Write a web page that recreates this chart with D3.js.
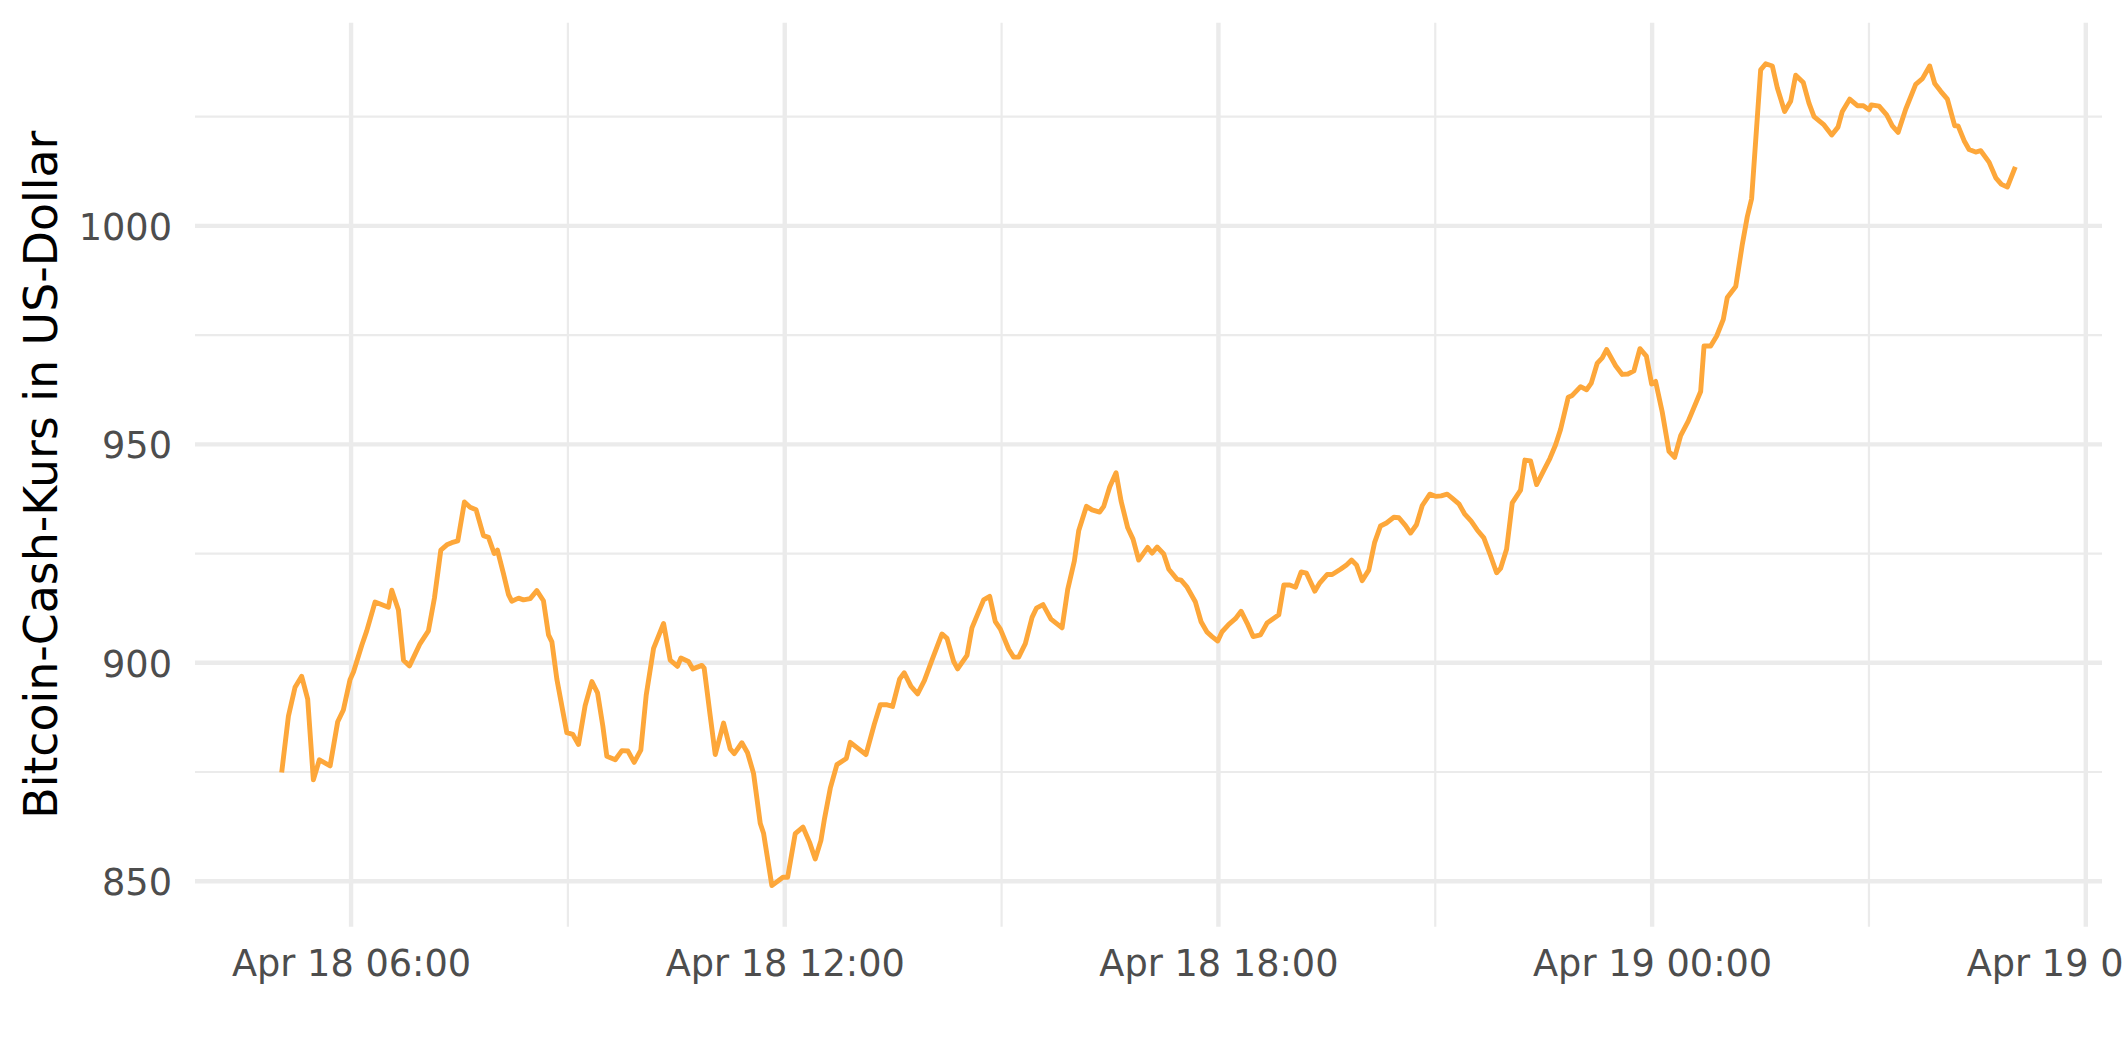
<!DOCTYPE html>
<html><head><meta charset="utf-8">
<script src="https://cdn.jsdelivr.net/npm/d3@7"></script>
<style>html,body{margin:0;padding:0;background:#fff;overflow:hidden} svg{display:block}</style>
</head><body>
<svg id="chart" width="2125" height="1062"></svg>
<script>
// ---- data ----
const startUTC = Date.UTC(2018, 3, 18, 5, 0); // 2018-04-18 05:00
// minutes after 05:00 on Apr 18
const offsetMin = [2.4,8.0,13.5,19.0,24.0,28.7,33.7,42.6,48.9,53.6,59.2,62.0,68.9,73.0,79.9,91.0,93.8,99.3,103.5,108.5,117.3,124.2,129.2,134.5,139.5,143.6,148.6,154.1,158.8,163.8,169.9,174.1,178.8,181.5,186.5,190.7,193.4,199.0,203.1,208.7,214.2,219.7,223.9,226.7,230.8,239.1,244.1,248.8,254.3,259.9,264.6,269.0,272.3,279.3,284.8,289.8,
295.0,300.5,305.0,311.1,319.4,324.9,331.0,333.8,340.1,343.7,351.2,353.1,358.1,362.3,369.2,374.7,378.1,384.4,389.1,394.1,399.7,402.4,409.3,418.5,422.4,428.7,435.1,440.6,445.3,450.0,452.8,457.8,463.3,471.1,474.4,481.3,487.4,494.3,499.3,504.3,509.5,515.4,519.2,524.8,530.3,535.9,542.2,550.5,554.7,560.2,563.5,571.3,575.4,581.0,585.1,590.1,594.8,599.0,605.9,610.0,614.2,619.7,625.3,628.9,634.4,641.0,650.2,
654.9,660.4,664.0,670.4,675.1,681.4,684.8,689.8,695.0,699.2,704.7,709.1,713.8,721.3,724.9,729.1,734.6,738.8,745.7,749.0,754.0,760.9,765.6,770.6,774.7,779.4,783.0,788.6,794.1,798.8,803.8,808.8,814.9,820.4,825.4,830.1,834.3,839.2,844.0,848.7,853.1,860.0,864.2,870.2,874.4,881.3,886.3,890.5,894.6,899.3,904.8,909.6,914.5,919.5,925.6,929.8,935.3,939.5,944.4,949.2,955.5,960.2,964.9,969.9,974.0,979.6,984.3,989.8,994.8,1000.3,1005.9,1010.9,1014.2,1019.2,1023.9,1030.8,1034.4,1039.1,1044.1,1050.2,
1055.2,1059.9,1064.0,1070.4,1073.7,1080.6,1085.6,1089.5,1094.5,1098.6,1102.2,1109.7,1115.2,1119.9,1124.9,1129.9,1135.2,1139.6,1142.9,1148.4,1154.0,1158.7,1163.7,1170.0,1180.3,1183.1,1188.6,1193.6,1199.1,1202.4,1209.4,
1214.9,1219.0,1222.6,1230.1,1234.3,1239.8,1243.9,1250.0,1255.0,1259.2,1265.5,1270.2,1274.4,1282.7,1289.1,1294.3,1297.9,1304.0,1310.4,1315.4,1320.1,1322.0,1328.4,
1334.7,1339.4,1344.2,1350.5,1358.8,1364.4,1370.4,1374.6,1379.6,1385.1,1391.2,1394.0,1399.0,1403.1,1408.6,1412.8,1419.7,1425.3,1430.0,1434.9,1441.5];
// Bitcoin Cash price in USD
const priceUSD = [874.9,887.8,894.4,896.9,891.7,873.2,877.8,876.4,886.5,889.2,896.2,897.9,904.0,907.3,913.9,912.7,916.6,912.1,900.6,899.3,904.4,907.3,914.8,925.8,927.0,927.5,927.9,936.8,935.6,935.0,929.1,928.7,925.0,925.8,920.4,915.6,914.1,914.8,914.4,914.7,916.5,914.2,906.4,904.8,896.3,884.0,883.6,881.3,890.2,895.7,893.1,885.5,878.6,877.8,879.9,879.8,
877.2,880.0,892.6,903.3,909.0,900.6,899.2,901.1,900.3,898.6,899.4,898.8,887.9,879.0,886.2,880.3,879.2,881.7,879.4,874.7,863.2,861.0,849.0,850.9,850.9,860.9,862.4,858.9,855.1,859.3,864.0,871.3,876.7,878.1,881.8,880.3,879.0,885.9,890.4,890.4,890.0,896.3,897.7,894.6,892.9,895.9,900.6,906.6,905.6,900.3,898.6,901.7,908.0,911.7,914.4,915.2,909.4,907.7,903.1,901.3,901.3,904.4,910.4,912.5,913.3,910.0,908.0,
916.8,923.3,930.2,935.8,935.0,934.5,935.8,940.3,943.5,937.0,930.9,928.3,923.5,926.4,925.1,926.5,924.9,921.4,919.1,918.9,917.3,913.9,909.4,907.0,906.0,905.0,907.1,908.8,910.1,911.8,909.1,906.0,906.4,909.1,910.1,911.0,917.8,917.8,917.3,920.8,920.5,916.4,918.3,920.2,920.2,921.4,922.4,923.5,922.4,918.8,921.2,927.5,931.3,932.0,933.3,933.2,931.4,929.7,931.6,936.0,938.6,938.1,938.2,938.6,937.7,936.4,934.1,932.4,930.4,928.6,924.5,920.6,921.6,926.0,936.6,939.5,946.4,946.2,940.8,944.1,
946.8,949.9,953.4,960.8,961.2,963.2,962.5,964.0,968.6,969.8,971.7,968.0,966.0,966.1,966.8,971.9,970.2,963.8,964.4,957.4,948.4,947.0,952.0,955.3,962.1,972.5,972.5,974.8,978.6,983.6,986.1,
995.8,1002.1,1006.2,1035.7,1037.1,1036.6,1031.6,1026.2,1028.5,1034.5,1032.8,1028.1,1025.0,1023.1,1020.8,1022.6,1026.2,1029.0,1027.5,1027.5,1026.6,1027.7,1027.4,
1025.4,1022.9,1021.4,1026.7,1032.4,1033.7,1036.6,1032.6,1030.8,1029.0,1022.9,1022.9,1019.5,1017.5,1016.9,1017.2,1014.6,1011.0,1009.5,1008.9,1013.5];

const yMajorTicks = [850, 900, 950, 1000];
const yMinorTicks = [875, 925, 975, 1025];
const xMajorLabels = ["Apr 18 06:00", "Apr 18 12:00", "Apr 18 18:00", "Apr 19 00:00", "Apr 19 06:00"];
const yTitle = "Bitcoin-Cash-Kurs in US-Dollar";

// ---- layout ----
const panel = {left: 195, right: 2102, top: 22.7, bottom: 926.7};
const FONT = "'DejaVu Sans', sans-serif";
const svg = d3.select("#chart");

const data = offsetMin.map((m, i) => ({t: new Date(startUTC + m * 60000), v: priceUSD[i]}));
const tExt = d3.extent(data, d => +d.t);
const vExt = d3.extent(data, d => d.v);
const tPad = (tExt[1] - tExt[0]) * 0.05;
const vPad = (vExt[1] - vExt[0]) * 0.05;

const x = d3.scaleUtc().domain([tExt[0] - tPad, tExt[1] + tPad]).range([panel.left, panel.right]);
const y = d3.scaleLinear().domain([vExt[0] - vPad, vExt[1] + vPad]).range([panel.bottom, panel.top]);

const [d0, d1] = x.domain();
const xMajor = d3.utcHour.every(6).range(d0, d1);
const xMinor = d3.utcHour.every(3).range(d0, d1).filter(d => d.getUTCHours() % 6 !== 0);

const grid = svg.append("g");
grid.selectAll(".hmin").data(yMinorTicks).join("line")
  .attr("x1", panel.left).attr("x2", panel.right)
  .attr("y1", d => y(d)).attr("y2", d => y(d))
  .attr("stroke", "#EBEBEB").attr("stroke-width", 2.2);
grid.selectAll(".vmin").data(xMinor).join("line")
  .attr("x1", d => x(d)).attr("x2", d => x(d))
  .attr("y1", panel.top).attr("y2", panel.bottom)
  .attr("stroke", "#EBEBEB").attr("stroke-width", 2.2);
grid.selectAll(".hmaj").data(yMajorTicks).join("line")
  .attr("x1", panel.left).attr("x2", panel.right)
  .attr("y1", d => y(d)).attr("y2", d => y(d))
  .attr("stroke", "#EBEBEB").attr("stroke-width", 4.4);
grid.selectAll(".vmaj").data(xMajor).join("line")
  .attr("x1", d => x(d)).attr("x2", d => x(d))
  .attr("y1", panel.top).attr("y2", panel.bottom)
  .attr("stroke", "#EBEBEB").attr("stroke-width", 4.4);

const line = d3.line().x(d => x(d.t)).y(d => y(d.v));
svg.append("path").datum(data)
  .attr("d", line)
  .attr("fill", "none")
  .attr("stroke", "#FDA73A")
  .attr("stroke-width", 4.9)
  .attr("stroke-linejoin", "round")
  .attr("stroke-linecap", "butt");

const gx = svg.append("g").attr("transform", `translate(0,${panel.bottom})`)
  .call(d3.axisBottom(x).tickValues(xMajor).tickSize(0).tickFormat((d, i) => xMajorLabels[i]));
gx.select(".domain").remove();
gx.selectAll("text")
  .attr("y", 49.8).attr("dy", 0)
  .attr("fill", "#4D4D4D")
  .style("font-family", FONT).style("font-size", "36.7px");

const gy = svg.append("g").attr("transform", `translate(${panel.left},0)`)
  .call(d3.axisLeft(y).tickValues(yMajorTicks).tickSize(0).tickFormat(d3.format("d")));
gy.select(".domain").remove();
gy.selectAll("text")
  .attr("x", -23).attr("dy", "0.365em")
  .attr("fill", "#4D4D4D")
  .style("font-family", FONT).style("font-size", "36.7px");

svg.append("text")
  .attr("transform", `translate(57,${(panel.top + panel.bottom) / 2}) rotate(-90)`)
  .attr("text-anchor", "middle")
  .attr("fill", "#000")
  .style("font-family", FONT).style("font-size", "45.8px")
  .text(yTitle);
</script>
</body></html>
